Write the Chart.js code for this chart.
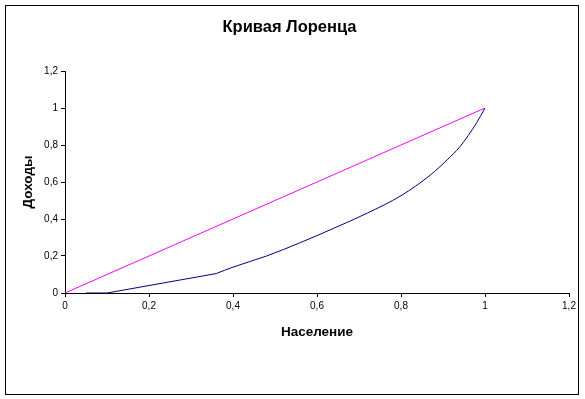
<!DOCTYPE html>
<html>
<head>
<meta charset="utf-8">
<script src="https://cdn.jsdelivr.net/npm/chart.js@4"></script>
<style>
  body { margin: 0; background: #fff; }
  #wrap { width: 585px; height: 399px; }
</style>
</head>
<body>
<div id="wrap"><canvas id="lorenz" width="585" height="399"></canvas></div>
<script>
// Lorenz curve data
// lower part: straight pieces
var popLow = [0.05, 0.1, 0.36];
var incLow = [0, 0, 0.105];
// upper part: smoothed curve
var popHigh = [0.36, 0.40, 0.48, 0.56, 0.64, 0.72, 0.80, 0.87, 0.91, 0.94, 0.98, 1];
var incHigh = [0.105, 0.14, 0.20, 0.272, 0.35, 0.432, 0.526, 0.638, 0.72, 0.79, 0.92, 1];
// line of equality
var equalX = [0, 1];
var equalY = [0, 1];
var tickValues = [0, 0.2, 0.4, 0.6, 0.8, 1, 1.2];
var tickLabels = ['0', '0,2', '0,4', '0,6', '0,8', '1', '1,2'];

function toPoints(xs, ys) {
  var pts = [];
  xs.forEach(function(x, i) { pts.push({ x: x, y: ys[i] }); });
  return pts;
}

// white background + black frame round the whole chart
var frame = {
  id: 'frame',
  beforeDraw: function(chart) {
    var ctx = chart.ctx;
    ctx.save();
    ctx.fillStyle = '#fff';
    ctx.fillRect(0, 0, chart.width, chart.height);
    ctx.strokeStyle = '#000';
    ctx.lineWidth = 1;
    ctx.strokeRect(5.5, 5.5, 573, 389);
    ctx.restore();
  }
};

function fixedTicks(scale) {
  scale.ticks = tickValues.map(function(v) { return { value: v }; });
}

Chart.defaults.font.family = '"Liberation Sans", Arial, sans-serif';
Chart.defaults.color = '#000';

new Chart(document.getElementById('lorenz'), {
  type: 'scatter',
  data: {
    datasets: [{
      label: 'Равенство',
      data: toPoints(equalX, equalY),
      showLine: true,
      borderColor: '#ff00ff',
      borderWidth: 1,
      pointRadius: 0
    }, {
      label: 'Лоренц',
      data: toPoints(popLow, incLow),
      showLine: true,
      borderColor: '#000080',
      borderWidth: 1,
      pointRadius: 0,
      tension: 0
    }, {
      label: 'Лоренц 2',
      data: toPoints(popHigh, incHigh),
      showLine: true,
      borderColor: '#000080',
      borderWidth: 1,
      pointRadius: 0,
      cubicInterpolationMode: 'monotone'
    }]
  },
  options: {
    responsive: false,
    animation: false,
    layout: { padding: { left: 10, right: 16, top: 0, bottom: 0 } },
    plugins: {
      legend: { display: false },
      tooltip: { enabled: false },
      title: {
        display: true,
        text: 'Кривая Лоренца',
        color: '#000',
        font: { size: 16.5, weight: 'bold' },
        padding: { top: 17.1, bottom: 34.1 }
      }
    },
    scales: {
      x: {
        type: 'linear',
        min: 0,
        max: 1.2,
        afterBuildTicks: fixedTicks,
        afterFit: function(scale) { scale.height = 106; },
        ticks: {
          font: { size: 10 },
          padding: 3,
          maxRotation: 0,
          callback: function(v, i) { return tickLabels[i]; }
        },
        grid: { drawOnChartArea: false, drawTicks: true, tickLength: 4, color: '#000' },
        border: { color: '#000', width: 1 },
        title: {
          display: true,
          text: 'Население',
          font: { size: 13.5, weight: 'bold' },
          padding: { top: 0, bottom: 58.9 }
        }
      },
      y: {
        type: 'linear',
        min: 0,
        max: 1.2,
        afterBuildTicks: fixedTicks,
        afterFit: function(scale) { scale.width = 55; },
        ticks: {
          font: { size: 10 },
          padding: 3,
          callback: function(v, i) { return tickLabels[i]; }
        },
        grid: { drawOnChartArea: false, drawTicks: true, tickLength: 4, color: '#000' },
        border: { color: '#000', width: 1 },
        title: {
          display: true,
          text: 'Доходы',
          font: { size: 13.5, weight: 'bold' },
          padding: { top: 10.2, bottom: 0 }
        }
      }
    }
  },
  plugins: [frame]
});
</script>
</body>
</html>
